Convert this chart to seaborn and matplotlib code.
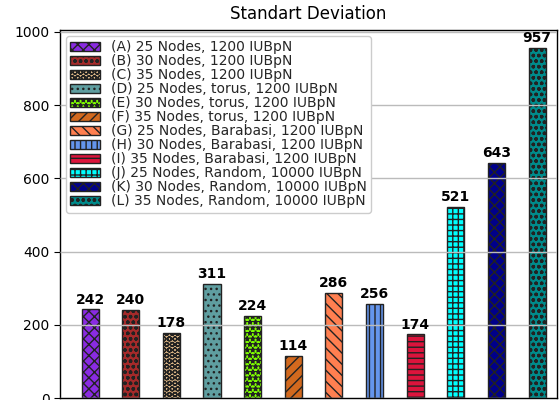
import matplotlib
matplotlib.use("Agg")
import matplotlib.pyplot as plt
import seaborn as sns
import pandas as pd

labels = [
    "(A) 25 Nodes, 1200 IUBpN",
    "(B) 30 Nodes, 1200 IUBpN",
    "(C) 35 Nodes, 1200 IUBpN",
    "(D) 25 Nodes, torus, 1200 IUBpN",
    "(E) 30 Nodes, torus, 1200 IUBpN",
    "(F) 35 Nodes, torus, 1200 IUBpN",
    "(G) 25 Nodes, Barabasi, 1200 IUBpN",
    "(H) 30 Nodes, Barabasi, 1200 IUBpN",
    "(I) 35 Nodes, Barabasi, 1200 IUBpN",
    "(J) 25 Nodes, Random, 10000 IUBpN",
    "(K) 30 Nodes, Random, 10000 IUBpN",
    "(L) 35 Nodes, Random, 10000 IUBpN",
]
values = [242, 240, 178, 311, 224, 114, 286, 256, 174, 521, 643, 957]
colors = ["blueviolet", "brown", "burlywood", "cadetblue", "chartreuse", "chocolate",
          "coral", "cornflowerblue", "crimson", "cyan", "darkblue", "darkcyan"]
hatches = ["xxx", "ooo", "OOO", "...", "***", "///", "\\\\\\", "|||",
           "---", "+++", "xxx", "ooo"]

sns.set_theme(style="whitegrid")
plt.rcParams["font.family"] = ["DejaVu Sans"]
plt.rcParams["hatch.linewidth"] = 1.0

df = pd.DataFrame({"label": labels, "value": values})

fig = plt.figure(figsize=(5.6, 4.0), dpi=100)
ax = fig.add_axes([60 / 560, 2 / 400, 497 / 560, 368 / 400])
sns.barplot(data=df, x="label", y="value", hue="label", palette=colors,
            saturation=1, width=0.42, legend=False, ax=ax,
            edgecolor="#222222", linewidth=1.0, dodge=False)

bars = list(ax.patches)
for p, h in zip(bars, hatches):
    p.set_hatch(h)

for p, v in zip(bars, values):
    ax.annotate(str(v), (p.get_x() + p.get_width() / 2, p.get_height()),
                xytext=(0, 2), textcoords="offset points", ha="center", va="bottom",
                fontsize=10, fontweight="bold", color="black")

ax.set_xlim(-0.74, 11.49)
ax.set_ylim(0, 1005)
ax.set_yticks([0, 200, 400, 600, 800, 1000])
ax.set_xticks([])
ax.set_xlabel("")
ax.set_ylabel("")
ax.tick_params(axis="y", labelsize=10, colors="black", length=4, left=True, width=0.8)
ax.grid(axis="y", color="#bbbbbb", linewidth=1.0)
ax.grid(axis="x", visible=False)
ax.set_axisbelow(False)
ax.set_facecolor("white")
for name, sp in ax.spines.items():
    sp.set_color("black")
    sp.set_linewidth(1.0)
ax.set_title("Standart Deviation", fontsize=12, color="black", pad=8)

leg = ax.legend(bars, labels, loc="upper left", fontsize=10, frameon=True,
                labelspacing=0.0, handlelength=2.1, handleheight=0.7,
                borderpad=0.3, borderaxespad=0.45, handletextpad=0.8)
leg.get_frame().set_edgecolor("#cccccc")
leg.get_frame().set_facecolor("white")
leg.get_frame().set_alpha(1.0)

fig.savefig("out.png", dpi=100)
